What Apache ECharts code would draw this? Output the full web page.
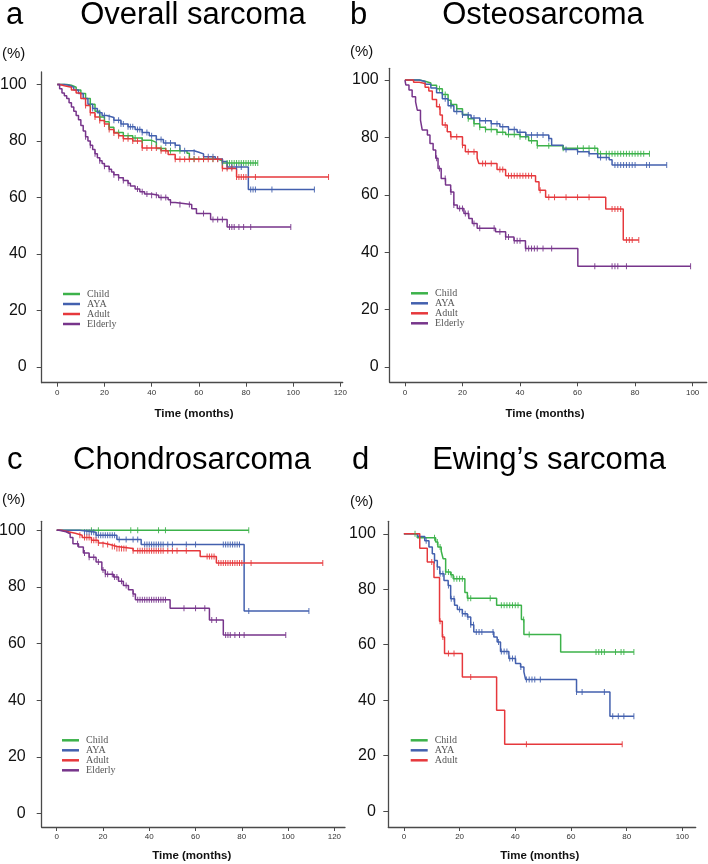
<!DOCTYPE html>
<html>
<head>
<meta charset="utf-8">
<script src="https://cdn.jsdelivr.net/npm/echarts@6/dist/echarts.min.js"></script>
<style>
html,body{margin:0;padding:0;background:#fff;}
#chart{width:708px;height:864px;}
</style>
</head>
<body>
<div id="chart"></div>
<script>
// ---------- tick labels ----------
const xTicksLong = [0, 20, 40, 60, 80, 100, 120];
const xTicksShort = [0, 20, 40, 60, 80, 100];
const yTicks = [0, 20, 40, 60, 80, 100];
const groupNames = ['Child', 'AYA', 'Adult', 'Elderly'];
const panelTitles = ['Overall sarcoma', 'Osteosarcoma', 'Chondrosarcoma', 'Ewing\u2019s sarcoma'];
const panelLetters = ['a', 'b', 'c', 'd'];

// ---------- (a) Overall sarcoma : [time, survival%] step levels ----------
const a_child = [[0,100],[4,99.7],[6,99],[8,98],[10,96.8],[12,95],[14,93],[16,90.5],[18,88.5],[20,86.8],[22,84.8],[24,83],[28,81.8],[32,81],[36,80.2],[40,79.5],[42,77.3],[46,76.5],[55,75.6],[56,73.6],[68,73],[70,72.2],[85,72.2]];
const a_child_cens = [14,18,22,26,30,33,36,40,44,48,52,58,62,66,70,72,73,74,75,76,77,78,79,80,81,82,83,84,85];
const a_aya = [[0,100],[3,99.7],[5,99],[7,98],[9,96.8],[11,95],[13,93],[15,91.5],[17,90],[19,89],[21,88.3],[24,87.3],[27,86],[30,85],[33,84],[36,83],[39,81.8],[42,80.5],[45,79.3],[50,78.5],[52,76.5],[58,76],[60,75.4],[62,74.4],[67,73.6],[70,72.7],[72,70.8],[81,62.8],[109,62.8]];
const a_aya_cens = [15,18,20,22,24,26,27,28,30,31,32,34,35,36,38,40,42,44,46,48,50,54,58,62,64,66,68,70,72,74,76,78,82,83,84,91,109];
const a_adult = [[0,100],[1,99.5],[3,99],[6,98],[8,97],[10,95],[12,92.5],[14,90],[16,88.5],[18,87.2],[20,86],[22,84],[24,82.8],[26,81.8],[28,80.8],[32,80],[36,77.5],[44,76.5],[47,75.2],[50,73.5],[70,70.2],[76,67.2],[115,67.2]];
const a_adult_cens = [12,14,16,18,20,22,24,26,28,30,32,34,36,38,40,42,44,46,50,52,54,56,58,60,62,64,66,68,70,72,74,76,77,78,79,80,84,115];
const a_elderly = [[0,100],[1,98.5],[2,97],[3,96],[4,95],[5,93.5],[6,92],[7,90.5],[8,89],[9,87.5],[10,85.5],[11,83.5],[12,81.5],[13,80],[14,78.5],[15,77],[16,75.5],[17,74],[18,73],[19,72],[20,71],[22,70],[23,69],[24,68],[26,67],[28,66],[30,65],[31,64],[33,63],[35,62],[37,61.2],[40,60.8],[43,60],[47,59.2],[48,58.2],[50,57.5],[57,56],[59,54.3],[65,52.2],[72,49.5],[99,49.5]];
const a_elderly_cens = [12,14,16,18,20,22,24,26,28,30,34,36,38,40,42,44,46,48,52,56,62,66,68,70,73,74,75,77,79,82,99];

// ---------- (b) Osteosarcoma ----------
const b_child = [[0,100],[5,99.6],[7,99],[9,98.2],[11,97],[13,95],[15,93],[16,91.5],[18,90],[20,88],[22,86.5],[24,84.8],[26,83.5],[28,82.8],[32,81.8],[35,81],[40,80.2],[43,78.8],[46,77.1],[55,76.2],[67,74.3],[85,74.3]];
const b_child_cens = [12,14,16,18,20,22,24,26,28,30,32,34,36,38,40,42,44,46,50,55,60,62,64,66,68,70,71,72,73,74,75,76,77,78,79,80,81,82,83,85];
const b_aya = [[0,100],[5,99.5],[7,98.5],[9,97.2],[11,95.6],[13,93.5],[15,91],[17,89],[20,87.8],[23,86.8],[26,85.8],[30,84.8],[33,83.7],[36,82.8],[39,81.8],[42,80.8],[50,79.6],[51,77.3],[55,75.8],[60,75],[64,74.3],[67,73],[71,72.2],[72,70.4],[91,70.4]];
const b_aya_cens = [14,16,18,20,22,24,26,28,30,32,34,36,38,40,42,44,46,48,50,56,60,64,68,70,73,74,75,76,77,78,79,80,84,85,91];
const b_adult = [[0,100],[3,99.2],[5,98.8],[7,97.5],[8.3,96.2],[9.5,93.2],[11,90.7],[12.2,87.8],[13,84.3],[14.7,82],[15.9,80.2],[20,77.3],[21,75],[25.1,72.7],[25.7,70.9],[32,68.8],[35,66.6],[45.4,64.5],[46.6,61.6],[48.9,59.1],[69.8,55],[75.9,44.2],[81.3,44.2]];
const b_adult_cens = [12,14,16,18,20,22,24,27,28,30,33,34,36,37,38,39,40,41,42,43,44,47,50,52,56,60,64,72,73,74,75,77,78,79,81.3];
const b_elderly = [[0,100],[0.3,98.3],[1.4,96.5],[2.5,94.2],[3.7,92.4],[4.3,89.5],[5.4,86],[6,82.6],[7.8,80.8],[8.7,77.9],[9.8,75.6],[10.7,72.7],[11.5,69.2],[12.6,65.7],[14.1,63.4],[15.9,61],[17,56.4],[18.2,55.2],[20.5,53.5],[22.2,51.7],[23.4,50],[25.1,48.3],[31.5,47.1],[35,45.3],[37.9,44],[41.9,41.3],[60.1,35.1],[99.3,35.1]];
const b_elderly_cens = [11,12,14,16,17,19,20,21,22,24,26,31,33,35,36,38,39,40,42,43,44,45,46,48,51,66,72,73,74,77,99.3];

// ---------- (c) Chondrosarcoma ----------
const c_child = [[0,100],[83,100]];
const c_child_cens = [15,18,32,35,44,47,83];
const c_aya = [[0,100],[10,99.3],[17,98.3],[26,96.8],[36.5,95],[81,71.5],[109,71.5]];
const c_aya_cens = [12,13,14,15,16,17,18,19,20,21,22,23,24,25,27,30,33,35,38,39,40,41,42,43,44,45,46,48,50,56,60,72,73,74,75,76,77,78,79,83,109];
const c_adult = [[0,100],[2,99.5],[5,99],[8,98.3],[11,97.5],[15,96.5],[18,95.5],[20,95],[23,94.3],[26,93.6],[33,92.8],[62,90.8],[69,88.5],[115,88.5]];
const c_adult_cens = [10,12,13,14,15,16,17,18,20,22,24,25,26,27,28,29,30,33,35,36,37,38,39,40,41,42,43,44,45,46,48,50,52,56,65,66,67,68,70,71,72,73,74,75,76,77,78,79,80,84,115];
const c_elderly = [[0,100],[1,99.5],[4,98.8],[5.8,97.5],[7,95.3],[9.4,94.1],[11.5,92],[14,90.5],[17,88.8],[19.5,86],[21,84.5],[24.5,83.5],[26.7,82],[28.8,80.5],[31,79],[33,77.5],[34,75.5],[49,72.5],[66,68.3],[72,63],[99,63]];
const c_elderly_cens = [9,12,14,16,18,20,21,22,24,25,26,28,30,33,35,36,37,38,39,40,41,42,43,44,45,46,47,55,60,64,67,69,73,74,75,77,79,81,99];

// ---------- (d) Ewing's sarcoma ----------
const d_child = [[0,100],[4.8,98.6],[11.4,97],[12.2,95.2],[13.4,93.8],[14.1,91],[15,86.2],[16.8,85.2],[17.7,83.8],[21.9,78.8],[22.8,76.8],[33.3,74.2],[42.2,69.1],[43.1,63.7],[56.3,57.4],[82.6,57.4]];
const d_child_cens = [4,11,12,13,15,16,17,18,19,20,21,23,24,31,35,36,37,38,39,40,41,43,45,69,70,71,72,76,78,79,82.6];
const d_aya = [[0,100],[5,99],[7.5,97.5],[9,95.2],[10.2,92.8],[11,90.4],[12,88],[12.9,85.6],[14.4,83.2],[15.9,81.4],[16.8,76.6],[18.2,74.2],[19.2,72.7],[21,71.2],[22.8,70],[24,67.2],[25.1,64.6],[32.3,62.8],[33.5,61],[34.7,57.6],[37.7,55],[40.1,53.2],[41.9,52],[43.1,50.2],[43.7,47.5],[62,43],[74,34.2],[82.6,34.2]];
const d_aya_cens = [8,11,12,13,14,16,17,18,20,21,22,23,24,25,26,27,28,32,34,35,36,37,38,39,40,42,44,45,46,47,49,62,64,72,75,77,79,82.6];
const d_adult = [[0,100],[5.7,94.8],[8.4,89.8],[10.8,84.2],[12.8,68.5],[13.8,62.8],[14.6,56.8],[21,48.4],[33.3,36.4],[36.2,24.1],[78.4,24.1]];
const d_adult_cens = [10,13,14,16,18,24,44,78.4];

// ---------- styling ----------
const colors = {Child:'#3cb24a', AYA:'#4360ae', Adult:'#e6383c', Elderly:'#77358b'};
const SANS = '"Liberation Sans", Arial, Helvetica, sans-serif';
const SERIF = '"Liberation Serif", "Times New Roman", serif';

const panels = [
  {grid:{left:41.7, top:72, width:301, height:310.7}, x:[-6.6,121], y:[-5.6,104.4], xt:xTicksLong, ym:15,
   legend:{left:63, top:289}, curves:[[a_child,a_child_cens],[a_aya,a_aya_cens],[a_adult,a_adult_cens],[a_elderly,a_elderly_cens]],
   letter:[6,15], title:[193,15], pct:[2,54], xname:[194,414]},
  {grid:{left:389.7, top:68.3, width:317, height:314}, x:[-5.3,104.9], y:[-5.4,104.1], xt:xTicksShort, ym:11,
   legend:{left:411, top:288.3}, curves:[[b_child,b_child_cens],[b_aya,b_aya_cens],[b_adult,b_adult_cens],[b_elderly,b_elderly_cens]],
   letter:[350,15], title:[543,15], pct:[350,52], xname:[545,414]},
  {grid:{left:41.7, top:521.3, width:303.3, height:305.7}, x:[-6.5,124.6], y:[-4.8,103.2], xt:xTicksLong, ym:16,
   legend:{left:62, top:735.3}, curves:[[c_child,c_child_cens],[c_aya,c_aya_cens],[c_adult,c_adult_cens],[c_elderly,c_elderly_cens]],
   letter:[7,460.5], title:[192,460.5], pct:[2,500], xname:[191.7,856.3]},
  {grid:{left:388.3, top:521.3, width:307.4, height:305.7}, x:[-5.6,104.8], y:[-5.7,104.5], xt:xTicksShort, ym:12.5,
   legend:{left:410.7, top:735.3}, curves:[[d_child,d_child_cens],[d_aya,d_aya_cens],[d_adult,d_adult_cens]],
   letter:[352,460.5], title:[549,460.5], pct:[350,502], xname:[539.7,856]}
];

function levelAt(steps, t){
  let s = steps[0][1];
  for (const p of steps){ if (p[0] <= t) s = p[1]; else break; }
  return s;
}

const grids=[], xAxes=[], yAxes=[], series=[], legends=[], graphics=[];
panels.forEach((p, i) => {
  grids.push(Object.assign({outerBoundsMode:'none', containLabel:false}, p.grid));
  xAxes.push({
    type:'value', gridIndex:i, min:p.x[0], max:p.x[1],
    axisLine:{show:true, onZero:false, lineStyle:{color:'#4a4a4a', width:1.3}},
    axisTick:{show:true, length:4, lineStyle:{color:'#4a4a4a', width:1}, customValues:p.xt},
    axisLabel:{customValues:p.xt, fontSize:8, color:'#333', fontFamily:SANS, margin:6},
    splitLine:{show:false}
  });
  yAxes.push({
    type:'value', gridIndex:i, min:p.y[0], max:p.y[1],
    axisLine:{show:true, onZero:false, lineStyle:{color:'#4a4a4a', width:1.3}},
    axisTick:{show:true, length:5, lineStyle:{color:'#4a4a4a', width:1}, customValues:yTicks},
    axisLabel:{customValues:yTicks, fontSize:16, color:'#111', fontFamily:SANS, margin:p.ym},
    splitLine:{show:false}
  });
  const names = groupNames.slice(0, p.curves.length);
  p.curves.forEach((c, k) => {
    const nm = names[k];
    series.push({
      type:'line', name:nm, xAxisIndex:i, yAxisIndex:i, step:'end',
      data:c[0], showSymbol:false, symbol:'none', silent:true,
      lineStyle:{color:colors[nm], width:1.5}, itemStyle:{color:colors[nm]}, z:2
    });
    series.push({
      type:'scatter', name:nm + ' censored', xAxisIndex:i, yAxisIndex:i, silent:true,
      data:c[1].map(t => [t, levelAt(c[0], t)]),
      symbol:'rect', symbolSize:[1, 6], itemStyle:{color:colors[nm], opacity:0.9}, z:3
    });
  });
  legends.push({
    data:names, orient:'vertical', left:p.legend.left, top:p.legend.top,
    icon:'rect', itemWidth:17, itemHeight:2.5, itemGap:0, padding:0, selectedMode:false,
    textStyle:{fontFamily:SERIF, fontSize:10, color:'#555', lineHeight:10, padding:[0,0,0,2]}
  });
  graphics.push({type:'text', x:p.letter[0], y:p.letter[1], style:{text:panelLetters[i], font:'31px '+SANS, fill:'#000', textAlign:'left', textVerticalAlign:'middle'}});
  graphics.push({type:'text', x:p.title[0], y:p.title[1], style:{text:panelTitles[i], font:'31px '+SANS, fill:'#000', textAlign:'center', textVerticalAlign:'middle'}});
  graphics.push({type:'text', x:p.pct[0], y:p.pct[1], style:{text:'(%)', font:'15px '+SANS, fill:'#111', textAlign:'left', textVerticalAlign:'middle'}});
  graphics.push({type:'text', x:p.xname[0], y:p.xname[1], style:{text:'Time (months)', font:'bold 11.5px '+SANS, fill:'#111', textAlign:'center', textVerticalAlign:'middle'}});
});

const chart = echarts.init(document.getElementById('chart'), null, {renderer:'canvas'});
chart.setOption({
  animation:false,
  backgroundColor:'#fff',
  grid:grids, xAxis:xAxes, yAxis:yAxes, series:series, legend:legends,
  graphic:graphics
});
</script>
</body>
</html>
